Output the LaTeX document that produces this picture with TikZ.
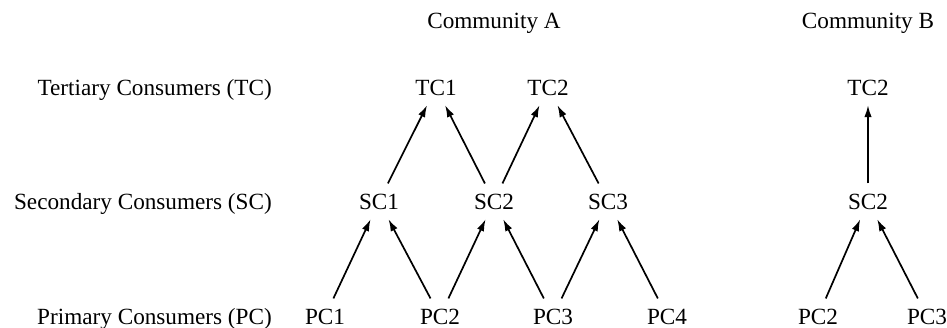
\documentclass[tikz,border=0pt]{standalone}
\usepackage{fontspec}
\setmainfont{Liberation Serif}
\usetikzlibrary{arrows.meta}
\begin{document}
\begin{tikzpicture}[x=1pt,y=-1pt,
  every node/.style={font=\fontsize{23.2}{27}\selectfont},
  sp/.style={anchor=base,inner xsep=2pt,inner ysep=10pt,text depth=0pt},
  rowlbl/.style={anchor=base east,inner sep=0pt},
  title/.style={anchor=base,inner sep=0pt},
  feed/.style={line width=1.7pt,-{Latex[length=12pt,width=7.5pt]}}]
\useasboundingbox (0,0) rectangle (947,327);

% level labels
\node[rowlbl] (ltc) at (272,95)  {Tertiary Consumers (TC)};
\node[rowlbl] (lsc) at (272,209) {Secondary Consumers (SC)};
\node[rowlbl] (lpc) at (272,324) {Primary Consumers (PC)};

% community titles
\node[title] (ca) at (494,28) {Community A};
\node[title] (cb) at (868,28) {Community B};

% community A
\node[sp] (atc1) at (436,95) {TC1};
\node[sp] (atc2) at (548,95) {TC2};
\node[sp] (asc1) at (379,209) {SC1};
\node[sp] (asc2) at (494,209) {SC2};
\node[sp] (asc3) at (608,209) {SC3};
\node[sp] (apc1) at (325,324) {PC1};
\node[sp] (apc2) at (440,324) {PC2};
\node[sp] (apc3) at (553,324) {PC3};
\node[sp] (apc4) at (667,324) {PC4};

% community B
\node[sp] (btc2) at (868,95) {TC2};
\node[sp] (bsc2) at (868,209) {SC2};
\node[sp] (bpc2) at (818,324) {PC2};
\node[sp] (bpc3) at (927,324) {PC3};

% feeding links, community A
\draw[feed] (apc1) -- (asc1);
\draw[feed] (apc2) -- (asc1);
\draw[feed] (apc2) -- (asc2);
\draw[feed] (apc3) -- (asc2);
\draw[feed] (apc3) -- (asc3);
\draw[feed] (apc4) -- (asc3);
\draw[feed] (asc1) -- (atc1);
\draw[feed] (asc2) -- (atc1);
\draw[feed] (asc2) -- (atc2);
\draw[feed] (asc3) -- (atc2);

% feeding links, community B
\draw[feed] (bpc2) -- (bsc2);
\draw[feed] (bpc3) -- (bsc2);
\draw[feed] (bsc2) -- (btc2);
\end{tikzpicture}
\end{document}
